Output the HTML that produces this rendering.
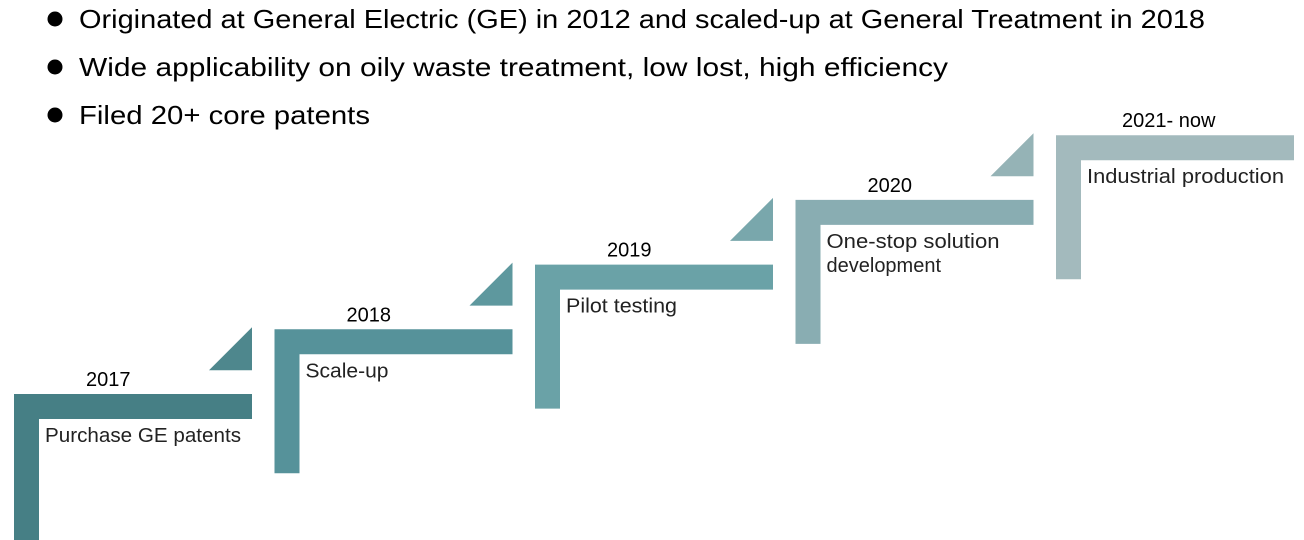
<!DOCTYPE html>
<html><head><meta charset="utf-8"><style>
html,body{margin:0;padding:0;background:#fff;}
svg{display:block;font-family:"Liberation Sans",sans-serif;}
</style></head><body>
<svg id="c" width="1304" height="540" viewBox="0 0 1304 540">
<g font-size="26" fill="#000">
<circle cx="55" cy="19" r="7.5"/>
<text x="79" y="28" textLength="1126" lengthAdjust="spacingAndGlyphs">Originated at General Electric (GE) in 2012 and scaled-up at General Treatment in 2018</text>
<circle cx="55" cy="67" r="7.5"/>
<text x="79" y="76" textLength="869" lengthAdjust="spacingAndGlyphs">Wide applicability on oily waste treatment, low lost, high efficiency</text>
<circle cx="55" cy="115" r="7.5"/>
<text x="79" y="124" textLength="291" lengthAdjust="spacingAndGlyphs">Filed 20+ core patents</text>
</g>
<g id="steps"></g>
</svg>
<script>
const years=["2017","2018","2019","2020","2021- now"];
const labels=[["Purchase GE patents"],["Scale-up"],["Pilot testing"],["One-stop solution","development"],["Industrial production"]];
const stepColors=["#467f85","#56929a","#6aa2a7","#89adb2","#a3babd"];
const triColors=["#4e878d","#5e989e","#79a7ac","#95b3b6"];
const labelWidths=[196,83,111,173,197];
const ns="http://www.w3.org/2000/svg";
const g=document.getElementById('steps');
function X(i){return 14+i*260.5;}
function Y(i){return 394-i*64.7;}
function mk(t,a){const e=document.createElementNS(ns,t);for(const k in a)e.setAttribute(k,a[k]);g.appendChild(e);return e;}
years.forEach((yr,i)=>{
  const x=X(i),y=Y(i),w=238,th=25,vh=i==0?146:144;
  const p=mk('path',{d:`M${x},${y}h${w}v${th}h${-(w-th)}v${vh-th}h${-th}z`,fill:stepColors[i]});
  
  
  const t=mk('text',{x:x+(i==4?122-56+0:96),y:y-8,'font-size':20,fill:'#000'});
  t.setAttribute('x', i==4? x+66 : x+72);
  t.textContent=yr;
  
  
  labels[i].forEach((l,j)=>{
    const lt=mk('text',{x:x+31,y:y+48+j*24,'font-size':20,fill:'#222','font-weight':'300'});
    lt.textContent=l;
    if(j==0)lt.setAttribute('textLength',labelWidths[i]);
    lt.setAttribute('lengthAdjust','spacingAndGlyphs');
    
    
  });
  if(i<4){
    const tx=X(i)+238,ty=Y(i+1);
    const tr=mk('path',{d:`M${tx},${ty-2}v43h-43z`,fill:triColors[i]});
    
    
  }
});
</script>
</body></html>
